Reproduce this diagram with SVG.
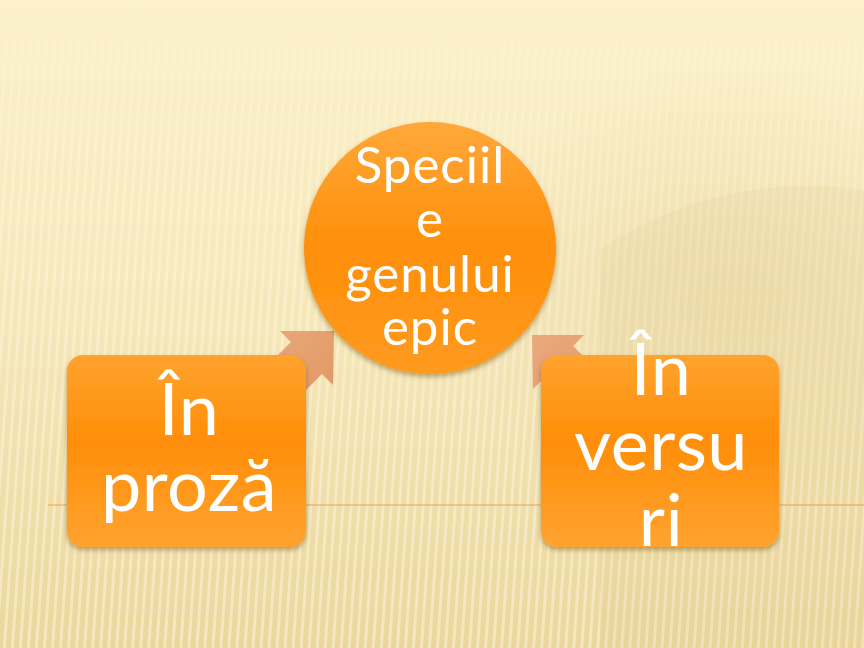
<svg xmlns="http://www.w3.org/2000/svg" width="864" height="648" viewBox="0 0 864 648">
<style>
.t{font-family:Lato,"Open Sans","Liberation Sans",sans-serif;fill:#ffffff;text-anchor:middle;font-weight:400}
.big{font-size:72px;letter-spacing:0.5px}
.mid{font-size:51px;letter-spacing:1px}
.arrow{fill:url(#ag)}
</style>
<defs>
<linearGradient id="bg" x1="0" y1="0" x2="0" y2="1">
<stop offset="0" stop-color="#FCF1CB"/>
<stop offset="0.5" stop-color="#F6E7B9"/>
<stop offset="1" stop-color="#EBD79D"/>
</linearGradient>
<pattern id="stripes" width="8" height="8" patternUnits="userSpaceOnUse" patternTransform="rotate(4)">
<rect x="0" y="0" width="3" height="8" fill="#FFFBE8"/>
</pattern>
<linearGradient id="fade" x1="0" y1="0" x2="0" y2="1">
<stop offset="0" stop-color="#fff" stop-opacity="0"/>
<stop offset="0.08" stop-color="#fff" stop-opacity="0.25"/>
<stop offset="0.3" stop-color="#fff" stop-opacity="0.65"/>
<stop offset="1" stop-color="#fff" stop-opacity="0.8"/>
</linearGradient>
<mask id="m"><rect width="864" height="648" fill="url(#fade)"/></mask>
<linearGradient id="box" x1="0" y1="0" x2="0" y2="1">
<stop offset="0" stop-color="#FFA32E"/>
<stop offset="0.45" stop-color="#FF8E08"/>
<stop offset="1" stop-color="#FFA330"/>
</linearGradient>
<linearGradient id="circ" x1="0" y1="0" x2="0" y2="1">
<stop offset="0" stop-color="#FFA83A"/>
<stop offset="0.5" stop-color="#FF8F08"/>
<stop offset="1" stop-color="#FF9A20"/>
</linearGradient>
<linearGradient id="ag" x1="0" y1="0" x2="1" y2="1">
<stop offset="0" stop-color="#EAA97E"/>
<stop offset="1" stop-color="#E0975F"/>
</linearGradient>
<filter id="sh" x="-10%" y="-10%" width="120%" height="125%">
<feDropShadow dx="0" dy="3" stdDeviation="2.5" flood-color="#6B4A10" flood-opacity="0.45"/>
</filter>
<radialGradient id="glow" cx="0.85" cy="0.45" r="0.35">
<stop offset="0" stop-color="#D9C080" stop-opacity="0.25"/>
<stop offset="1" stop-color="#D9C080" stop-opacity="0"/>
</radialGradient>
</defs>
<rect width="864" height="648" fill="url(#bg)"/>
<rect width="864" height="648" fill="url(#stripes)" mask="url(#m)" opacity="0.55"/>
<rect width="864" height="648" fill="url(#glow)"/>
<path d="M600,250 Q720,170 864,190 L864,648 L600,648 Z" fill="#D8C184" opacity="0.12"/>
<line x1="48" y1="505" x2="864" y2="505" stroke="#E9A04E" stroke-width="1.2"/>
<g id="connectors">
<polygon class="arrow" points="334,331 280,331 291,342 251,382 282,414 322,374 333,385"/>
<polygon class="arrow" points="532,335 584,335 573,346 613,386 584,418 544,378 533,389"/>
</g>
<g id="center-node">
<circle cx="430" cy="248" r="126" fill="url(#circ)" filter="url(#sh)"/>
<text class="t mid" x="430" y="183">Speciil</text>
<text class="t mid" x="430" y="237">e</text>
<text class="t mid" x="430" y="292">genului</text>
<text class="t mid" x="430" y="345">epic</text>
</g>
<g id="node-proza">
<rect x="67" y="355" width="239" height="192" rx="16" fill="url(#box)" filter="url(#sh)"/>
<text class="t big" x="189" y="435">În</text>
<text class="t big" x="189" y="511">proză</text>
</g>
<g id="node-versuri">
<rect x="541" y="355" width="238" height="192" rx="16" fill="url(#box)" filter="url(#sh)"/>
<text class="t big" x="661" y="395">În</text>
<text class="t big" x="661" y="470">versu</text>
<text class="t big" x="661" y="546">ri</text>
</g>
</svg>
